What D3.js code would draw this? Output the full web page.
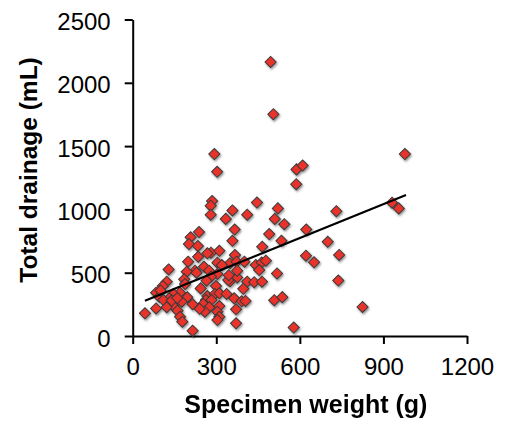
<!DOCTYPE html>
<html>
<head>
<meta charset="utf-8">
<script src="https://cdn.jsdelivr.net/npm/d3@7"></script>
<style>
  html, body { margin: 0; padding: 0; background: #fff; }
  svg { display: block; }
</style>
</head>
<body>
<div id="chart"></div>
<script>
// Specimen weight (g) against total drainage (mL), one diamond per specimen
const weight = [
  495, 505, 293, 303, 588, 610, 587, 977,
  285, 280, 280, 358, 334, 411, 446, 521, 510, 544, 366, 238, 208, 202, 234, 358,
  490, 534, 623, 731, 700, 931, 955, 465,
  367, 622, 651, 741, 349, 373, 401, 442, 463, 478, 454, 518, 375, 349, 411, 436,
  464, 397, 738, 364, 391, 405, 371, 508, 537, 371, 578, 825,
  281, 268, 311, 235, 304, 256, 129, 224, 274, 194, 304, 375, 281, 265, 185, 343,
  122, 108, 244, 299, 170, 84, 95, 146, 131, 110, 196, 176, 146, 122, 161, 84,
  44, 170, 178, 215, 268, 295, 311, 263, 283, 337, 253, 275, 311, 259, 304, 311,
  304, 199, 240, 140, 229, 188, 320, 345, 215, 160, 100
];
const drainage = [
  2165, 1752, 1437, 1297, 1316, 1346, 1199, 1437,
  1066, 1029, 958, 992, 925, 958, 1054, 1008, 925, 883, 841, 821, 780, 726, 711, 752,
  805, 752, 841, 986, 744, 1053, 1008, 705,
  639, 634, 582, 640, 574, 587, 587, 561, 580, 595, 521, 494, 462, 432, 429, 425,
  429, 373, 438, 298, 274, 277, 211, 283, 307, 100, 67, 229,
  658, 653, 673, 626, 579, 547, 526, 516, 516, 508, 489, 516, 468, 437, 448, 442,
  429, 395, 376, 395, 342, 342, 310, 332, 298, 284, 306, 271, 237, 227, 200, 218,
  179, 152, 113, 42, 316, 332, 337, 284, 284, 332, 253, 227, 237, 192, 192, 152,
  126, 587, 215, 280, 500, 410, 560, 480, 250, 300, 360
];

// Least-squares trend line, drawn across the observed weight range
const trendSlope = 0.89;
const trendIntercept = 240;
const trendRange = [44, 981];

const xTicks = [0, 300, 600, 900, 1200];
const yTicks = [0, 500, 1000, 1500, 2000, 2500];
const xTitle = "Specimen weight (g)";
const yTitle = "Total drainage (mL)";

const width = 505, height = 421;
const plot = { left: 132.7, right: 467, top: 19.5, bottom: 336 };

const svg = d3.select("#chart").append("svg")
  .attr("width", width).attr("height", height);

const defs = svg.append("defs");
const shadow = defs.append("filter").attr("id", "markerShadow")
  .attr("x", "-50%").attr("y", "-50%").attr("width", "200%").attr("height", "200%");
shadow.append("feDropShadow")
  .attr("dx", 1).attr("dy", 1.5).attr("stdDeviation", 1)
  .attr("flood-color", "#000").attr("flood-opacity", 0.45);

const x = d3.scaleLinear().domain([0, 1200]).range([plot.left, plot.right]);
const y = d3.scaleLinear().domain([0, 2500]).range([plot.bottom, plot.top]);

const fontFamily = "'Liberation Sans', Arial, Helvetica, sans-serif";

// Axes
const yAxis = svg.append("g")
  .attr("transform", `translate(${plot.left},0)`)
  .call(d3.axisLeft(y).tickValues(yTicks).tickFormat(d3.format("d"))
    .tickSize(8).tickSizeOuter(0).tickPadding(14));
const xAxis = svg.append("g")
  .attr("transform", `translate(0,${plot.bottom})`)
  .call(d3.axisBottom(x).tickValues(xTicks).tickFormat(d3.format("d"))
    .tickSize(8).tickSizeOuter(0).tickPadding(14));

[yAxis, xAxis].forEach(g => {
  g.select(".domain").attr("stroke", "#000").attr("stroke-width", 2);
  g.selectAll(".tick line").attr("stroke", "#000").attr("stroke-width", 2);
  g.selectAll(".tick text")
    .attr("fill", "#000")
    .style("font-size", "24px")
    .style("font-family", fontFamily);
});
yAxis.selectAll(".tick text").attr("dy", "0.42em");

// Data points
const points = weight.map((w, i) => ({ w, d: drainage[i] }));
const diamond = d3.symbol().type(d3.symbolSquare).size(62);
svg.append("g").attr("filter", "url(#markerShadow)")
  .selectAll("path").data(points).join("path")
  .attr("d", diamond)
  .attr("transform", p => `translate(${x(p.w)},${y(p.d)}) rotate(45)`)
  .attr("fill", "#e8332a")
  .attr("stroke", "#3a3a3a")
  .attr("stroke-width", 1);

// Trend line
svg.append("line")
  .attr("x1", x(trendRange[0])).attr("y1", y(trendIntercept + trendSlope * trendRange[0]))
  .attr("x2", x(trendRange[1])).attr("y2", y(trendIntercept + trendSlope * trendRange[1]))
  .attr("stroke", "#000").attr("stroke-width", 2.2);

// Axis titles
svg.append("text")
  .attr("x", (plot.left + plot.right) / 2 + 6).attr("y", 413)
  .attr("text-anchor", "middle")
  .style("font-family", fontFamily).style("font-weight", "bold").style("font-size", "25px")
  .text(xTitle);

svg.append("text")
  .attr("transform", `translate(37,${170}) rotate(-90)`)
  .attr("text-anchor", "middle")
  .style("font-family", fontFamily).style("font-weight", "bold").style("font-size", "24.5px")
  .text(yTitle);
</script>
</body>
</html>
